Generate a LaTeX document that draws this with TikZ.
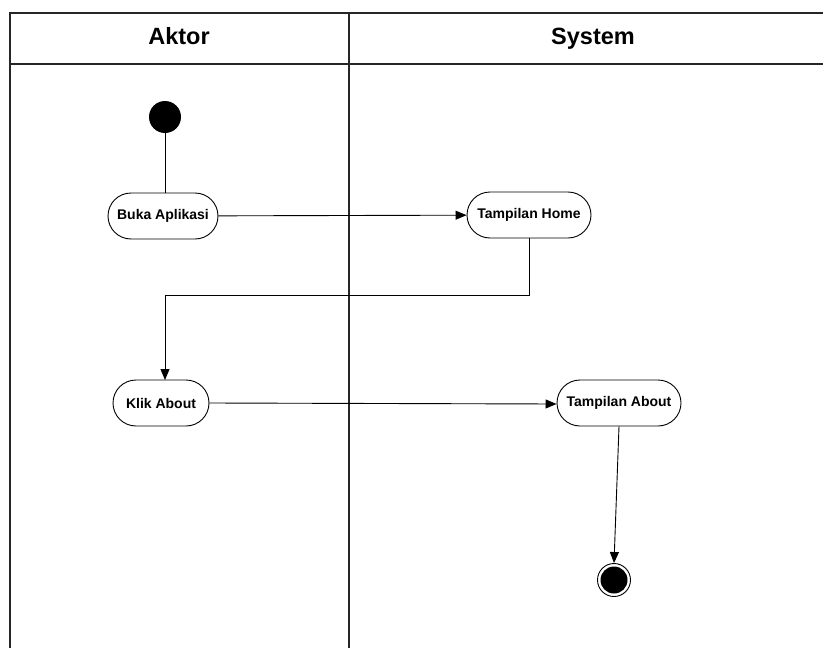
\documentclass[tikz,border=0pt]{standalone}
\usepackage{fontspec}
\setmainfont{Liberation Sans}
\usetikzlibrary{arrows.meta,shapes.misc}
\begin{document}
\begin{tikzpicture}[x=1pt,y=-1pt,
  lane/.style={line width=2pt,draw=black!85},
  act/.style={draw,line width=0.9pt,rounded rectangle,minimum height=46pt,
    inner xsep=4pt,font=\bfseries\fontsize{14}{16}\selectfont},
  flow/.style={line width=0.9pt,-{Triangle[length=11pt,width=9pt]}},
  plain/.style={line width=0.9pt},
  head/.style={font=\bfseries\fontsize{23.5}{26}\selectfont,anchor=base}]
\useasboundingbox (0,0) rectangle (823,648);
\fill[white] (0,0) rectangle (823,648);
\begin{scope}
\clip (0,0) rectangle (823,648);
% swimlane frame
\draw[lane] (10,660) -- (10,13) -- (840,13);
\draw[lane] (10,64) -- (840,64);
\draw[lane] (349,13) -- (349,660);
\end{scope}
\node[head] (hAktor) at (179,44) {Aktor};
\node[head] (hSystem) at (593,44) {System};

% initial node
\node[circle,fill=black,minimum size=32pt,inner sep=0pt] (start) at (165,117) {};
% activities
\node[act,minimum width=118pt] (buka) at (163,216) {Buka Aplikasi};
\node[act,minimum width=132pt] (home) at (529,215) {Tampilan Home};
\node[act,minimum width=104pt] (klik) at (161,403) {Klik About};
\node[act,minimum width=132pt] (about) at (619,403) {Tampilan About};
% final node
\node[circle,draw,line width=0.9pt,minimum size=33pt,inner sep=0pt] (final) at (614,580) {};
\fill (final.center) circle (13.5pt);

\coordinate (bendA) at (529,295);
\coordinate (bendB) at (165,295);
\coordinate (klikIn) at (165,380);

\draw[plain] (start) -- (start |- buka.north);
\draw[flow] (buka) -- (home);
\draw[flow] (home.south) -- (bendA) -- (bendB) -- (klikIn);
\draw[flow] (klik.east) -- ([yshift=-1pt]about.west);
\draw[flow] (about.south) -- (final.north);
\end{tikzpicture}
\end{document}
